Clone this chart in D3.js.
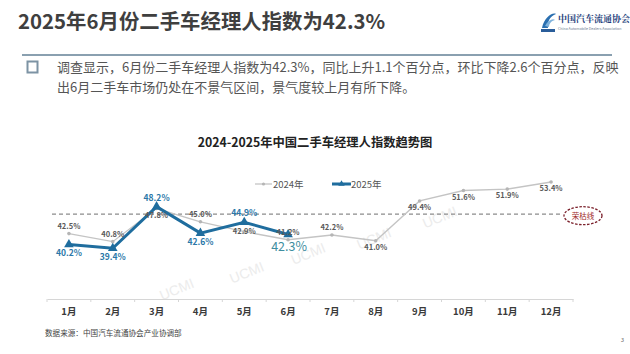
<!DOCTYPE html>
<html>
<head>
<meta charset="utf-8">
<script src="https://cdn.jsdelivr.net/npm/d3@7"></script>
<style>
  html, body { margin: 0; padding: 0; background: #fff; }
  svg { display: block; font-family: "Noto Sans CJK SC", "Noto Sans", sans-serif; }
</style>
</head>
<body>
<div class="chart"></div>
<script>
// data
const months = ['1月', '2月', '3月', '4月', '5月', '6月', '7月', '8月', '9月', '10月', '11月', '12月'];
const values2024 = [42.5, 40.8, 47.8, 45.0, 42.9, 41.2, 42.2, 41.0, 49.4, 51.6, 51.9, 53.4];
const values2025 = [40.2, 39.4, 48.2, 42.6, 44.9, 42.3];
const seriesNames = ['2024年', '2025年'];
const refLineValue = 46.6; // drawn position of the 荣枯线 in the source
const refLineLabel = '荣枯线';

// label placement (above / below / on)
const place2024 = ['up', 'up', 'down', 'up', 'on', 'up', 'up', 'down', 'down', 'down', 'down', 'down'];
const place2025 = ['down', 'down', 'up', 'down', 'up', 'down'];

const pageTitle = '2025年6月份二手车经理人指数为42.3%';
const bodyLines = [
  '调查显示，6月份二手车经理人指数为42.3%，同比上升1.1个百分点，环比下降2.6个百分点，反映',
  '出6月二手车市场仍处在不景气区间，景气度较上月有所下降。',
];
const chartTitle = '2024-2025年中国二手车经理人指数趋势图';
const sourceText = '数据来源：中国汽车流通协会产业协调部';

// faint "UCMI" watermark spots: [month index, value level]
const watermarkSpots = [[2.5, 29.8], [4.1, 33.3], [5.5, 37.3], [7.0, 40.5], [8.5, 45.0]];

const W = 630;
const H = 354;
const blue = '#1f6d9e';
const grey = '#c4c4c4';

const svg = d3.select('.chart')
  .append('svg')
  .attr('width', W)
  .attr('height', H);

// header
svg.append('text')
  .attr('x', 18).attr('y', 29)
  .attr('font-size', 20.4).attr('font-weight', 'bold')
  .attr('fill', '#3f3f3f')
  .text(pageTitle);

svg.append('line')
  .attr('x1', 22).attr('x2', 612)
  .attr('y1', 55).attr('y2', 55)
  .attr('stroke', '#8aa0b0').attr('stroke-width', 2);

// logo
const logo = svg.append('g').attr('transform', 'translate(540,10)');
logo.append('path')
  .attr('d', 'M2,18 C4,8 12,2 16,4 C10,6 7,12 8,18 Z')
  .attr('fill', '#2a6fb0');
logo.append('path')
  .attr('d', 'M5,16 C8,10 13,8 15,10 C11,11 9,14 9,17 Z')
  .attr('fill', '#7fb2dc');
logo.append('rect')
  .attr('x', 1).attr('y', 19).attr('width', 14).attr('height', 3)
  .attr('fill', '#2a5d9a');
logo.append('text')
  .attr('x', 18).attr('y', 12)
  .attr('font-size', 9).attr('font-weight', 'bold')
  .attr('font-family', 'Noto Serif CJK SC, Noto Sans CJK SC, serif')
  .attr('fill', '#1d3d7a')
  .text('中国汽车流通协会');
logo.append('text')
  .attr('x', 18).attr('y', 20)
  .attr('font-size', 3.6)
  .attr('fill', '#6a7a90')
  .text('China Automobile Dealers Association');

// bullet box + body
svg.append('rect')
  .attr('x', 27.5).attr('y', 61.5)
  .attr('width', 10).attr('height', 11)
  .attr('fill', '#fff')
  .attr('stroke', '#7d93a4').attr('stroke-width', 2);

svg.selectAll('.body-line')
  .data(bodyLines)
  .enter()
  .append('text')
  .attr('class', 'body-line')
  .attr('x', 57)
  .attr('y', (d, i) => 72 + i * 19.5)
  .attr('font-size', 13)
  .attr('fill', '#555')
  .text((d) => d);

// chart title
svg.append('text')
  .attr('x', 315).attr('y', 147)
  .attr('text-anchor', 'middle')
  .attr('font-size', 12.3).attr('font-weight', 'bold')
  .attr('fill', '#222')
  .text(chartTitle);

// scales
const x = d3.scaleBand()
  .domain(months)
  .range([47, 573]);
const cx = (m) => x(m) + x.bandwidth() / 2;
const xi = (i) => x.range()[0] + (i + 0.5) * x.step();

const y = d3.scaleLinear()
  .domain([41.0, 53.4])
  .range([240.7, 182]);

// watermark
svg.selectAll('.wm')
  .data(watermarkSpots)
  .enter()
  .append('text')
  .attr('class', 'wm')
  .attr('transform', (d) => `translate(${xi(d[0])},${y(d[1])}) rotate(-22)`)
  .attr('text-anchor', 'middle')
  .attr('font-size', 14)
  .attr('font-family', 'Liberation Sans, Arial, sans-serif')
  .attr('fill', '#ececec')
  .text('UCMI');

// x axis
const axisY = 299;
const xAxis = svg.append('g')
  .attr('transform', `translate(0,${axisY})`)
  .call(d3.axisBottom(x).tickSize(0).tickPadding(9));
xAxis.select('.domain').attr('stroke', '#d6d6d6').attr('stroke-width', 1.2);
xAxis.selectAll('text')
  .attr('font-size', 9.5)
  .attr('font-weight', 'bold')
  .attr('font-family', 'Noto Sans CJK SC, sans-serif')
  .attr('fill', '#3a3a3a');
xAxis.selectAll('.sep')
  .data(months.concat(['end']))
  .enter()
  .append('line')
  .attr('x1', (d, i) => x.range()[0] + i * x.step())
  .attr('x2', (d, i) => x.range()[0] + i * x.step())
  .attr('y1', 0).attr('y2', 3)
  .attr('stroke', '#d6d6d6');

// reference line
const refY = y(refLineValue);
svg.append('line')
  .attr('x1', 52).attr('x2', 563)
  .attr('y1', refY).attr('y2', refY)
  .attr('stroke', '#8c8c8c')
  .attr('stroke-width', 1.2)
  .attr('stroke-dasharray', '4,3');
svg.append('ellipse')
  .attr('cx', 583).attr('cy', refY + 1.5)
  .attr('rx', 19).attr('ry', 9)
  .attr('fill', '#fff')
  .attr('stroke', '#7a1f2a')
  .attr('stroke-width', 1.3)
  .attr('stroke-dasharray', '2.5,1.5');
svg.append('text')
  .attr('x', 583).attr('y', refY + 4.5)
  .attr('text-anchor', 'middle')
  .attr('font-size', 7.5)
  .attr('fill', '#a12a2a')
  .text(refLineLabel);

// 2024 line
const line = d3.line()
  .x((d) => cx(d.m))
  .y((d) => y(d.v));

const data24 = months.map((m, i) => ({ m, v: values2024[i], p: place2024[i] }));
const data25 = values2025.map((v, i) => ({ m: months[i], v, p: place2025[i] }));

svg.append('path')
  .datum(data24)
  .attr('d', line)
  .attr('fill', 'none')
  .attr('stroke', grey)
  .attr('stroke-width', 1.3);

svg.selectAll('.pt24')
  .data(data24)
  .enter()
  .append('circle')
  .attr('class', 'pt24')
  .attr('cx', (d) => cx(d.m))
  .attr('cy', (d) => y(d.v))
  .attr('r', 1.8)
  .attr('fill', '#b5b5b5');

// 2025 line
svg.append('path')
  .datum(data25)
  .attr('d', line)
  .attr('fill', 'none')
  .attr('stroke', blue)
  .attr('stroke-width', 3);

const tri = d3.symbol().type(d3.symbolTriangle).size(40);
svg.selectAll('.pt25')
  .data(data25)
  .enter()
  .append('path')
  .attr('class', 'pt25')
  .attr('d', tri)
  .attr('transform', (d) => `translate(${cx(d.m)},${y(d.v)})`)
  .attr('fill', blue);

// labels
const off = { up: -5, down: 9, on: 2 };
svg.selectAll('.lb24')
  .data(data24)
  .enter()
  .append('text')
  .attr('class', 'lb24')
  .attr('x', (d) => cx(d.m))
  .attr('y', (d) => y(d.v) + off[d.p])
  .attr('text-anchor', 'middle')
  .attr('font-size', 7.5)
  .attr('font-weight', 'bold')
  .attr('fill', '#5a5a5a')
  .text((d) => `${d.v.toFixed(1)}%`);

svg.selectAll('.lb25')
  .data(data25.slice(0, 5))
  .enter()
  .append('text')
  .attr('class', 'lb25')
  .attr('x', (d) => cx(d.m))
  .attr('y', (d) => y(d.v) + (d.p === 'up' ? -6 : 12))
  .attr('text-anchor', 'middle')
  .attr('font-size', 8.5)
  .attr('font-weight', 'bold')
  .attr('fill', '#2b77a8')
  .text((d) => `${d.v.toFixed(1)}%`);

const last = data25[data25.length - 1];
svg.append('text')
  .attr('x', cx(last.m) + 1)
  .attr('y', y(last.v) + 16)
  .attr('text-anchor', 'middle')
  .attr('font-size', 12.5)
  .attr('fill', '#3f8ea0')
  .text(`${last.v.toFixed(1)}%`);

// legend
const legend = svg.append('g').attr('transform', 'translate(255,184)');
legend.append('line')
  .attr('x1', 0).attr('x2', 17)
  .attr('stroke', grey).attr('stroke-width', 1.3);
legend.append('circle')
  .attr('cx', 8.5).attr('r', 1.6).attr('fill', '#b5b5b5');
legend.append('text')
  .attr('x', 18).attr('y', 4)
  .attr('font-size', 9.5).attr('fill', '#555')
  .text(seriesNames[0]);
legend.append('line')
  .attr('x1', 77).attr('x2', 96)
  .attr('stroke', blue).attr('stroke-width', 3);
legend.append('path')
  .attr('d', d3.symbol().type(d3.symbolTriangle).size(18))
  .attr('transform', 'translate(86.5,0)')
  .attr('fill', blue);
legend.append('text')
  .attr('x', 96).attr('y', 4)
  .attr('font-size', 9.5).attr('fill', '#555')
  .text(seriesNames[1]);

// source + page number
svg.append('text')
  .attr('x', 45).attr('y', 336)
  .attr('font-size', 7.6)
  .attr('fill', '#444')
  .text(sourceText);
svg.append('text')
  .attr('x', 621).attr('y', 342)
  .attr('font-size', 5.5)
  .attr('fill', '#666')
  .text('3');
</script>
</body>
</html>
